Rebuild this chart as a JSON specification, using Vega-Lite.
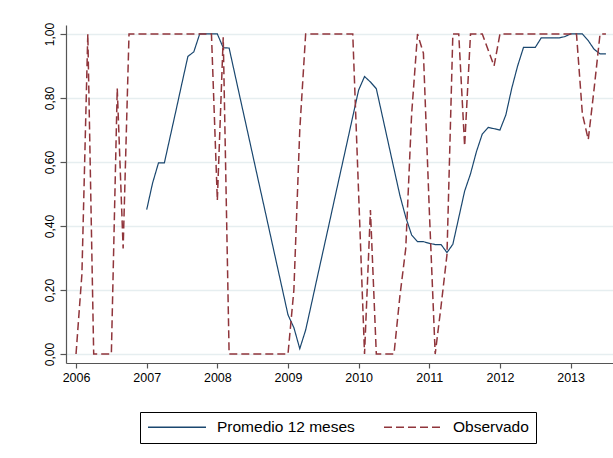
{
  "$schema": "https://vega.github.io/schema/vega-lite/v6.json",
  "width": 547,
  "height": 338,
  "autosize": {"type": "none"},
  "padding": {"left": 66, "top": 25, "right": 0, "bottom": 95},
  "background": "white",
  "config": {
    "view": {"stroke": null},
    "font": "Liberation Sans",
    "axis": {"labelFont": "Liberation Sans", "labelColor": "#000000", "domainColor": "#555555", "tickColor": "#555555", "domainWidth": 1.2, "tickWidth": 1.2}
  },
  "data": {"values": [
    {"t": 2006.0, "serie": "Observado", "v": 0},
    {"t": 2006.0833, "serie": "Observado", "v": 0.25},
    {"t": 2006.1667, "serie": "Observado", "v": 1},
    {"t": 2006.25, "serie": "Observado", "v": 0},
    {"t": 2006.3333, "serie": "Observado", "v": 0},
    {"t": 2006.4167, "serie": "Observado", "v": 0},
    {"t": 2006.5, "serie": "Observado", "v": 0},
    {"t": 2006.5833, "serie": "Observado", "v": 0.83},
    {"t": 2006.6667, "serie": "Observado", "v": 0.33},
    {"t": 2006.75, "serie": "Observado", "v": 1},
    {"t": 2006.8333, "serie": "Observado", "v": 1},
    {"t": 2006.9167, "serie": "Observado", "v": 1},
    {"t": 2007.0, "serie": "Observado", "v": 1},
    {"t": 2007.0833, "serie": "Observado", "v": 1},
    {"t": 2007.1667, "serie": "Observado", "v": 1},
    {"t": 2007.25, "serie": "Observado", "v": 1},
    {"t": 2007.3333, "serie": "Observado", "v": 1},
    {"t": 2007.4167, "serie": "Observado", "v": 1},
    {"t": 2007.5, "serie": "Observado", "v": 1},
    {"t": 2007.5833, "serie": "Observado", "v": 1},
    {"t": 2007.6667, "serie": "Observado", "v": 1},
    {"t": 2007.75, "serie": "Observado", "v": 1},
    {"t": 2007.8333, "serie": "Observado", "v": 1},
    {"t": 2007.9167, "serie": "Observado", "v": 1},
    {"t": 2008.0, "serie": "Observado", "v": 0.48},
    {"t": 2008.0833, "serie": "Observado", "v": 0.99},
    {"t": 2008.1667, "serie": "Observado", "v": 0},
    {"t": 2008.25, "serie": "Observado", "v": 0},
    {"t": 2008.3333, "serie": "Observado", "v": 0},
    {"t": 2008.4167, "serie": "Observado", "v": 0},
    {"t": 2008.5, "serie": "Observado", "v": 0},
    {"t": 2008.5833, "serie": "Observado", "v": 0},
    {"t": 2008.6667, "serie": "Observado", "v": 0},
    {"t": 2008.75, "serie": "Observado", "v": 0},
    {"t": 2008.8333, "serie": "Observado", "v": 0},
    {"t": 2008.9167, "serie": "Observado", "v": 0},
    {"t": 2009.0, "serie": "Observado", "v": 0},
    {"t": 2009.0833, "serie": "Observado", "v": 0.2},
    {"t": 2009.1667, "serie": "Observado", "v": 0.7},
    {"t": 2009.25, "serie": "Observado", "v": 1},
    {"t": 2009.3333, "serie": "Observado", "v": 1},
    {"t": 2009.4167, "serie": "Observado", "v": 1},
    {"t": 2009.5, "serie": "Observado", "v": 1},
    {"t": 2009.5833, "serie": "Observado", "v": 1},
    {"t": 2009.6667, "serie": "Observado", "v": 1},
    {"t": 2009.75, "serie": "Observado", "v": 1},
    {"t": 2009.8333, "serie": "Observado", "v": 1},
    {"t": 2009.9167, "serie": "Observado", "v": 1},
    {"t": 2010.0, "serie": "Observado", "v": 0.5},
    {"t": 2010.0833, "serie": "Observado", "v": 0},
    {"t": 2010.1667, "serie": "Observado", "v": 0.45},
    {"t": 2010.25, "serie": "Observado", "v": 0},
    {"t": 2010.3333, "serie": "Observado", "v": 0},
    {"t": 2010.4167, "serie": "Observado", "v": 0},
    {"t": 2010.5, "serie": "Observado", "v": 0},
    {"t": 2010.5833, "serie": "Observado", "v": 0.18},
    {"t": 2010.6667, "serie": "Observado", "v": 0.33},
    {"t": 2010.75, "serie": "Observado", "v": 0.75},
    {"t": 2010.8333, "serie": "Observado", "v": 1},
    {"t": 2010.9167, "serie": "Observado", "v": 0.94},
    {"t": 2011.0, "serie": "Observado", "v": 0.45},
    {"t": 2011.0833, "serie": "Observado", "v": 0},
    {"t": 2011.1667, "serie": "Observado", "v": 0.15},
    {"t": 2011.25, "serie": "Observado", "v": 0.31},
    {"t": 2011.3333, "serie": "Observado", "v": 1},
    {"t": 2011.4167, "serie": "Observado", "v": 1},
    {"t": 2011.5, "serie": "Observado", "v": 0.65},
    {"t": 2011.5833, "serie": "Observado", "v": 1},
    {"t": 2011.6667, "serie": "Observado", "v": 1},
    {"t": 2011.75, "serie": "Observado", "v": 1},
    {"t": 2011.8333, "serie": "Observado", "v": 0.95},
    {"t": 2011.9167, "serie": "Observado", "v": 0.9},
    {"t": 2012.0, "serie": "Observado", "v": 1},
    {"t": 2012.0833, "serie": "Observado", "v": 1},
    {"t": 2012.1667, "serie": "Observado", "v": 1},
    {"t": 2012.25, "serie": "Observado", "v": 1},
    {"t": 2012.3333, "serie": "Observado", "v": 1},
    {"t": 2012.4167, "serie": "Observado", "v": 1},
    {"t": 2012.5, "serie": "Observado", "v": 1},
    {"t": 2012.5833, "serie": "Observado", "v": 1},
    {"t": 2012.6667, "serie": "Observado", "v": 1},
    {"t": 2012.75, "serie": "Observado", "v": 1},
    {"t": 2012.8333, "serie": "Observado", "v": 1},
    {"t": 2012.9167, "serie": "Observado", "v": 1},
    {"t": 2013.0, "serie": "Observado", "v": 1},
    {"t": 2013.0833, "serie": "Observado", "v": 1},
    {"t": 2013.1667, "serie": "Observado", "v": 0.75},
    {"t": 2013.25, "serie": "Observado", "v": 0.67},
    {"t": 2013.3333, "serie": "Observado", "v": 0.83},
    {"t": 2013.4167, "serie": "Observado", "v": 1},
    {"t": 2013.5, "serie": "Observado", "v": 1},
    {"t": 2007.0, "serie": "Promedio 12 meses", "v": 0.451},
    {"t": 2007.0833, "serie": "Promedio 12 meses", "v": 0.534},
    {"t": 2007.1667, "serie": "Promedio 12 meses", "v": 0.597},
    {"t": 2007.25, "serie": "Promedio 12 meses", "v": 0.597},
    {"t": 2007.3333, "serie": "Promedio 12 meses", "v": 0.68},
    {"t": 2007.4167, "serie": "Promedio 12 meses", "v": 0.763},
    {"t": 2007.5, "serie": "Promedio 12 meses", "v": 0.847},
    {"t": 2007.5833, "serie": "Promedio 12 meses", "v": 0.93},
    {"t": 2007.6667, "serie": "Promedio 12 meses", "v": 0.944},
    {"t": 2007.75, "serie": "Promedio 12 meses", "v": 1.0},
    {"t": 2007.8333, "serie": "Promedio 12 meses", "v": 1.0},
    {"t": 2007.9167, "serie": "Promedio 12 meses", "v": 1.0},
    {"t": 2008.0, "serie": "Promedio 12 meses", "v": 1.0},
    {"t": 2008.0833, "serie": "Promedio 12 meses", "v": 0.957},
    {"t": 2008.1667, "serie": "Promedio 12 meses", "v": 0.956},
    {"t": 2008.25, "serie": "Promedio 12 meses", "v": 0.8725},
    {"t": 2008.3333, "serie": "Promedio 12 meses", "v": 0.789},
    {"t": 2008.4167, "serie": "Promedio 12 meses", "v": 0.706},
    {"t": 2008.5, "serie": "Promedio 12 meses", "v": 0.6225},
    {"t": 2008.5833, "serie": "Promedio 12 meses", "v": 0.539},
    {"t": 2008.6667, "serie": "Promedio 12 meses", "v": 0.456},
    {"t": 2008.75, "serie": "Promedio 12 meses", "v": 0.3725},
    {"t": 2008.8333, "serie": "Promedio 12 meses", "v": 0.289},
    {"t": 2008.9167, "serie": "Promedio 12 meses", "v": 0.206},
    {"t": 2009.0, "serie": "Promedio 12 meses", "v": 0.1225},
    {"t": 2009.0833, "serie": "Promedio 12 meses", "v": 0.0825},
    {"t": 2009.1667, "serie": "Promedio 12 meses", "v": 0.0167},
    {"t": 2009.25, "serie": "Promedio 12 meses", "v": 0.075},
    {"t": 2009.3333, "serie": "Promedio 12 meses", "v": 0.158},
    {"t": 2009.4167, "serie": "Promedio 12 meses", "v": 0.242},
    {"t": 2009.5, "serie": "Promedio 12 meses", "v": 0.325},
    {"t": 2009.5833, "serie": "Promedio 12 meses", "v": 0.408},
    {"t": 2009.6667, "serie": "Promedio 12 meses", "v": 0.492},
    {"t": 2009.75, "serie": "Promedio 12 meses", "v": 0.575},
    {"t": 2009.8333, "serie": "Promedio 12 meses", "v": 0.658},
    {"t": 2009.9167, "serie": "Promedio 12 meses", "v": 0.742},
    {"t": 2010.0, "serie": "Promedio 12 meses", "v": 0.825},
    {"t": 2010.0833, "serie": "Promedio 12 meses", "v": 0.867},
    {"t": 2010.1667, "serie": "Promedio 12 meses", "v": 0.85},
    {"t": 2010.25, "serie": "Promedio 12 meses", "v": 0.829},
    {"t": 2010.3333, "serie": "Promedio 12 meses", "v": 0.746},
    {"t": 2010.4167, "serie": "Promedio 12 meses", "v": 0.6625},
    {"t": 2010.5, "serie": "Promedio 12 meses", "v": 0.579},
    {"t": 2010.5833, "serie": "Promedio 12 meses", "v": 0.496},
    {"t": 2010.6667, "serie": "Promedio 12 meses", "v": 0.4275},
    {"t": 2010.75, "serie": "Promedio 12 meses", "v": 0.372},
    {"t": 2010.8333, "serie": "Promedio 12 meses", "v": 0.351},
    {"t": 2010.9167, "serie": "Promedio 12 meses", "v": 0.351},
    {"t": 2011.0, "serie": "Promedio 12 meses", "v": 0.346},
    {"t": 2011.0833, "serie": "Promedio 12 meses", "v": 0.342},
    {"t": 2011.1667, "serie": "Promedio 12 meses", "v": 0.342},
    {"t": 2011.25, "serie": "Promedio 12 meses", "v": 0.317},
    {"t": 2011.3333, "serie": "Promedio 12 meses", "v": 0.343},
    {"t": 2011.4167, "serie": "Promedio 12 meses", "v": 0.426},
    {"t": 2011.5, "serie": "Promedio 12 meses", "v": 0.509},
    {"t": 2011.5833, "serie": "Promedio 12 meses", "v": 0.563},
    {"t": 2011.6667, "serie": "Promedio 12 meses", "v": 0.632},
    {"t": 2011.75, "serie": "Promedio 12 meses", "v": 0.6875},
    {"t": 2011.8333, "serie": "Promedio 12 meses", "v": 0.708},
    {"t": 2011.9167, "serie": "Promedio 12 meses", "v": 0.704},
    {"t": 2012.0, "serie": "Promedio 12 meses", "v": 0.7},
    {"t": 2012.0833, "serie": "Promedio 12 meses", "v": 0.747},
    {"t": 2012.1667, "serie": "Promedio 12 meses", "v": 0.83},
    {"t": 2012.25, "serie": "Promedio 12 meses", "v": 0.9},
    {"t": 2012.3333, "serie": "Promedio 12 meses", "v": 0.958},
    {"t": 2012.4167, "serie": "Promedio 12 meses", "v": 0.958},
    {"t": 2012.5, "serie": "Promedio 12 meses", "v": 0.958},
    {"t": 2012.5833, "serie": "Promedio 12 meses", "v": 0.9875},
    {"t": 2012.6667, "serie": "Promedio 12 meses", "v": 0.9875},
    {"t": 2012.75, "serie": "Promedio 12 meses", "v": 0.9875},
    {"t": 2012.8333, "serie": "Promedio 12 meses", "v": 0.9875},
    {"t": 2012.9167, "serie": "Promedio 12 meses", "v": 0.9917},
    {"t": 2013.0, "serie": "Promedio 12 meses", "v": 1.0},
    {"t": 2013.0833, "serie": "Promedio 12 meses", "v": 1.0},
    {"t": 2013.1667, "serie": "Promedio 12 meses", "v": 1.0},
    {"t": 2013.25, "serie": "Promedio 12 meses", "v": 0.979},
    {"t": 2013.3333, "serie": "Promedio 12 meses", "v": 0.952},
    {"t": 2013.4167, "serie": "Promedio 12 meses", "v": 0.938},
    {"t": 2013.5, "serie": "Promedio 12 meses", "v": 0.938}
  ]},
  "encoding": {
    "x": {
      "field": "t", "type": "quantitative",
      "scale": {"domain": [2005.858, 2013.6], "nice": false, "zero": false},
      "axis": {"title": null, "values": [2006, 2007, 2008, 2009, 2010, 2011, 2012, 2013], "format": "d", "grid": false, "tickSize": 5, "labelPadding": 3, "labelFontSize": 12.5, "labelFlush": false}
    },
    "y": {
      "field": "v", "type": "quantitative",
      "scale": {"domain": [-0.028, 1.028], "nice": false, "zero": false},
      "axis": {"title": null, "values": [0, 0.2, 0.4, 0.6, 0.8, 1], "labelExpr": "replace(format(datum.value, '.2f'), '.', ',')", "grid": true, "gridColor": "#e6eef0", "gridWidth": 1.5, "tickSize": 6, "labelAngle": -90, "labelAlign": "center", "labelBaseline": "alphabetic", "labelPadding": 7, "labelFontSize": 12, "labelFlush": false}
    },
    "color": {
      "field": "serie", "type": "nominal",
      "scale": {"domain": ["Promedio 12 meses", "Observado"], "range": ["#1a476f", "#90353b"]},
      "legend": {"title": null, "orient": "none", "legendX": 74, "legendY": 387, "direction": "horizontal", "columns": 2, "symbolType": "stroke", "symbolSize": 3364, "symbolStrokeWidth": 1.3, "clipHeight": 16, "labelFontSize": 15.5, "labelFont": "Liberation Sans", "labelColor": "#000000", "labelOffset": 10, "columnPadding": 28, "padding": 7, "strokeColor": "#000000", "fillColor": "#ffffff"}
    },
    "strokeDash": {
      "field": "serie", "type": "nominal",
      "scale": {"domain": ["Promedio 12 meses", "Observado"], "range": [[1, 0], [8, 4]]},
      "legend": {"title": null, "orient": "none", "legendX": 74, "legendY": 387, "direction": "horizontal", "columns": 2, "symbolType": "stroke", "symbolSize": 3364, "symbolStrokeWidth": 1.3, "clipHeight": 16, "labelFontSize": 15.5, "labelFont": "Liberation Sans", "labelColor": "#000000", "labelOffset": 10, "columnPadding": 28, "padding": 7, "strokeColor": "#000000", "fillColor": "#ffffff"}
    }
  },
  "layer": [
    {"transform": [{"filter": "datum.serie === 'Promedio 12 meses'"}], "mark": {"type": "line", "strokeWidth": 1.2}},
    {"transform": [{"filter": "datum.serie === 'Observado'"}], "mark": {"type": "line", "strokeWidth": 1.5}}
  ]
}
